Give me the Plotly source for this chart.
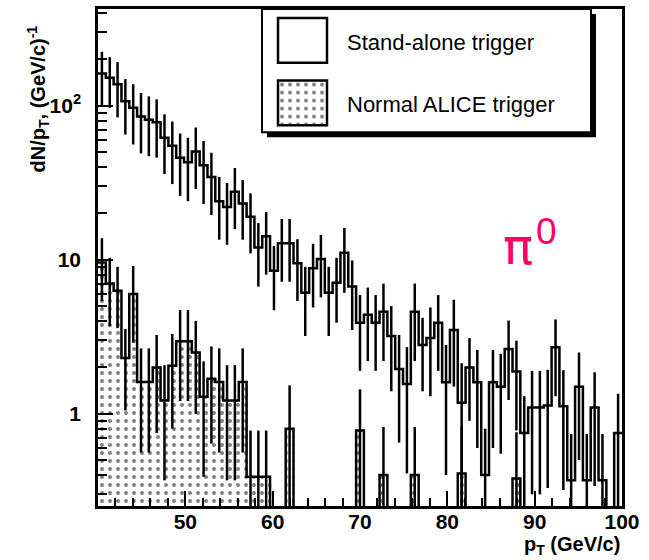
import numpy as np
import plotly.graph_objects as go

# ---- data: pi0 pT spectra, 67 equal bins between 40 and 100 GeV/c ----
pt_min, pt_max, n_bins = 40.0, 100.0, 67

standalone = [162, 152, 138, 107, 97, 85, 81, 78, 62, 55,
              46, 43, 50.5, 41, 34.5, 24, 22, 27.6, 23.2, 19,
              12, 14.2, 8.5, 12.8, 12.8, 9.5, 6.1, 8.8, 10.1, 6.1,
              7.1, 11.1, 6.7, 3.9, 4.4, 3.9, 4.6, 3.2, 1.95, 1.56,
              4.6, 2.8, 3.1, 3.9, 1.6, 3.5, 1.18, 2.0, 1.6, 0.4,
              1.6, 1.5, 2.63, 1.88, 0.75, 1.1, 1.1, 1.13, 2.7, 1.12,
              0.37, 1.5, 0.37, 1.1, 0.37, 0, 0.75]
standalone_err = [62, 55, 54, 42, 41, 36, 34, 32, 26, 24,
                  20, 19, 21.7, 18, 15, 10.5, 9.5, 11.8, 9.7, 8.0,
                  5.3, 6.2, 3.8, 5.6, 5.6, 4.1, 2.9, 3.9, 4.4, 2.9,
                  3.2, 5.0, 3.2, 2.0, 2.2, 2.0, 2.4, 1.8, 1.3, 1.15,
                  2.4, 1.4, 1.8, 2.0, 1.2, 2.0, 0.95, 1.1, 1.0, 0.4,
                  1.0, 0.95, 1.4, 1.1, 0.55, 0.8, 0.8, 0.8, 1.4, 0.8,
                  0.37, 1.0, 0.37, 0.76, 0.37, 0, 0.6]

alice = [9.6, 7.0, 6.3, 2.3, 6.0, 1.61, 1.61, 2.0, 1.22, 2.05,
         2.96, 2.96, 2.5, 1.29, 1.69, 1.61, 1.22, 1.22, 1.61, 0.39,
         0.39, 0.39, 0, 0, 0.8, 0, 0, 0, 0, 0,
         0, 0, 0, 0.78, 0, 0, 0.4, 0, 0, 0,
         0.4, 0, 0, 0, 0, 0, 0.41, 0, 0, 0,
         0, 0, 0, 0.38, 0, 0, 0, 0, 0, 0,
         0, 0, 0, 0, 0, 0, 0]
alice_err = [4.2, 3.3, 2.7, 1.25, 3.1, 1.05, 1.05, 1.25, 0.85, 1.25,
             1.75, 1.75, 1.5, 0.9, 1.05, 1.05, 0.85, 0.85, 1.05, 0.39,
             0.39, 0.39, 0, 0, 0.73, 0, 0, 0, 0, 0,
             0, 0, 0, 0.66, 0, 0, 0.42, 0, 0, 0,
             0.42, 0, 0, 0, 0, 0, 0.42, 0, 0, 0,
             0, 0, 0, 0.38, 0, 0, 0, 0, 0, 0,
             0, 0, 0, 0, 0, 0, 0]

x_tick_vals = [50, 60, 70, 80, 90, 100]
x_tick_text = ["50", "60", "70", "80", "90", "100"]
y_tick_vals = [1, 10, 100]
y_tick_text = ["1", "10", "10<sup>2</sup>"]
y_minor_vals = [0.3, 0.4, 0.5, 0.6, 0.7, 0.8, 0.9,
                2, 3, 4, 5, 6, 7, 8, 9,
                20, 30, 40, 50, 60, 70, 80, 90, 200, 300, 400]
legend_labels = ["Stand-alone trigger", "Normal ALICE trigger"]
y_lo, y_hi = 0.252, 424.6

# ---- geometry helpers (pixel -> paper) ----
W, H = 649, 560
L, R, T, B = 98, 622, 6, 506


def px(x):
    return (x - L) / (R - L)


def py(y):
    return (B - y) / (B - T)


edges = np.linspace(pt_min, pt_max, n_bins + 1)
centers = 0.5 * (edges[:-1] + edges[1:])
bin_w = edges[1] - edges[0]


def step_xy(vals):
    v = np.asarray(vals, dtype=float)
    v = np.where(v > 0, v, 1e-4)  # empty bins drop to the bottom of the frame
    return np.repeat(edges, 2)[1:-1], np.repeat(v, 2)


def nonzero(vals):
    return [v if v > 0 else None for v in vals]


LW = 2.5
dots = dict(shape=".", fgcolor="black", bgcolor="white", size=8, solidity=0.2)
fig = go.Figure()

# ALICE-trigger histogram: dotted fill
fig.add_trace(go.Bar(
    x=centers, y=nonzero(alice), width=bin_w,
    marker=dict(color="white", line=dict(width=0), pattern=dots),
    hoverinfo="skip", showlegend=False))

# ALICE-trigger outline and errors
sx, sy = step_xy(alice)
fig.add_trace(go.Scatter(x=sx, y=sy, mode="lines",
                         line=dict(color="black", width=LW),
                         hoverinfo="skip", showlegend=False))
fig.add_trace(go.Scatter(
    x=centers, y=nonzero(alice), mode="markers",
    marker=dict(size=1, color="rgba(0,0,0,0)"),
    error_y=dict(type="data", array=alice_err, width=0,
                 thickness=LW, color="black"),
    hoverinfo="skip", showlegend=False))

# Stand-alone trigger outline and errors
sx, sy = step_xy(standalone)
fig.add_trace(go.Scatter(x=sx, y=sy, mode="lines",
                         line=dict(color="black", width=LW),
                         hoverinfo="skip", showlegend=False))
fig.add_trace(go.Scatter(
    x=centers, y=nonzero(standalone), mode="markers",
    marker=dict(size=1, color="rgba(0,0,0,0)"),
    error_y=dict(type="data", array=standalone_err, width=0,
                 thickness=LW, color="black"),
    hoverinfo="skip", showlegend=False))

# patterned swatch for the legend (own small axes)
sw2 = (278, 327, 78, 123)
fig.add_trace(go.Bar(
    x=[0.5], y=[1], width=1, base=0, xaxis="x2", yaxis="y2",
    marker=dict(color="white", line=dict(width=0), pattern=dots),
    hoverinfo="skip", showlegend=False))

font_main = "Liberation Sans, Arial, Helvetica, sans-serif"

fig.update_layout(
    width=W, height=H,
    margin=dict(l=L, r=W - R, t=T, b=H - B),
    paper_bgcolor="white", plot_bgcolor="white",
    bargap=0, barmode="overlay",
    showlegend=False,
    xaxis=dict(range=[pt_min, pt_max], showgrid=False, zeroline=False,
               showline=True, mirror=True, linecolor="black", linewidth=2.5,
               ticks="inside", ticklen=15, tickwidth=2, tickcolor="black",
               tickvals=x_tick_vals, ticktext=x_tick_text,
               ticklabelstandoff=-5,
               tickfont=dict(family=font_main, size=21, color="black",
                             weight="bold"),
               minor=dict(ticks="inside", ticklen=8, tickwidth=2,
                          tickcolor="black", dtick=2, tick0=pt_min)),
    yaxis=dict(type="log", range=[np.log10(y_lo), np.log10(y_hi)],
               showgrid=False, zeroline=False,
               showline=True, mirror=True, linecolor="black", linewidth=2.5,
               ticks="inside", ticklen=15, tickwidth=2, tickcolor="black",
               tickvals=y_tick_vals, ticktext=y_tick_text,
               ticklabelstandoff=10,
               tickfont=dict(family=font_main, size=21, color="black",
                             weight="bold"),
               minor=dict(ticks="inside", ticklen=9, tickwidth=2,
                          tickcolor="black", tickvals=y_minor_vals)),
    xaxis2=dict(domain=[px(sw2[0]), px(sw2[1])], anchor="y2",
                range=[0, 1], visible=False),
    yaxis2=dict(domain=[py(sw2[3]), py(sw2[2])], anchor="x2",
                range=[0, 1], visible=False),
)

# legend frame with drop shadow
box = (262, 591, 6, 130)
shadow = 5
fig.add_shape(type="rect", xref="paper", yref="paper", layer="below",
              x0=px(box[0] + shadow), x1=px(box[1] + shadow),
              y0=py(box[3] + shadow), y1=py(box[2] + shadow),
              fillcolor="black", line=dict(width=0))
fig.add_shape(type="rect", xref="paper", yref="paper", layer="below",
              x0=px(box[0]), x1=px(box[1]), y0=py(box[3]), y1=py(box[2]),
              fillcolor="white", line=dict(color="black", width=2))

# legend swatches
sw1 = (278, 327, 15, 60)
for sw in (sw1, sw2):
    fig.add_shape(type="rect", xref="paper", yref="paper", layer="above",
                  x0=px(sw[0]), x1=px(sw[1]), y0=py(sw[3]), y1=py(sw[2]),
                  line=dict(color="black", width=2.5))

for label, yc in zip(legend_labels, (40, 102)):
    fig.add_annotation(text=label, xref="paper", yref="paper",
                       x=px(345), y=py(yc), xanchor="left", yanchor="middle",
                       showarrow=False,
                       font=dict(family=font_main, size=22, color="black"))

# axis titles
fig.add_annotation(text="dN/p<sub>T</sub>, (GeV/c)<sup>-1</sup>",
                   xref="paper", yref="paper", x=px(38), y=py(97),
                   xanchor="center", yanchor="middle", textangle=-90,
                   showarrow=False,
                   font=dict(family=font_main, size=20, color="black",
                             weight="bold"))
fig.add_annotation(text="p<sub>T</sub> (GeV/c)",
                   xref="paper", yref="paper", x=1.0, y=py(546),
                   xanchor="right", yanchor="middle", showarrow=False,
                   font=dict(family=font_main, size=20, color="black",
                             weight="bold"))

# particle label
pink = "#ff0066"
fig.add_annotation(text="π", xref="paper", yref="paper",
                   x=px(518), y=py(245), xanchor="center", yanchor="middle",
                   showarrow=False,
                   font=dict(family="DejaVu Sans", size=50, color=pink))
fig.add_annotation(text="0", xref="paper", yref="paper",
                   x=px(546), y=py(230), xanchor="center", yanchor="middle",
                   showarrow=False,
                   font=dict(family=font_main, size=37, color=pink))

fig.write_html("out.html")
